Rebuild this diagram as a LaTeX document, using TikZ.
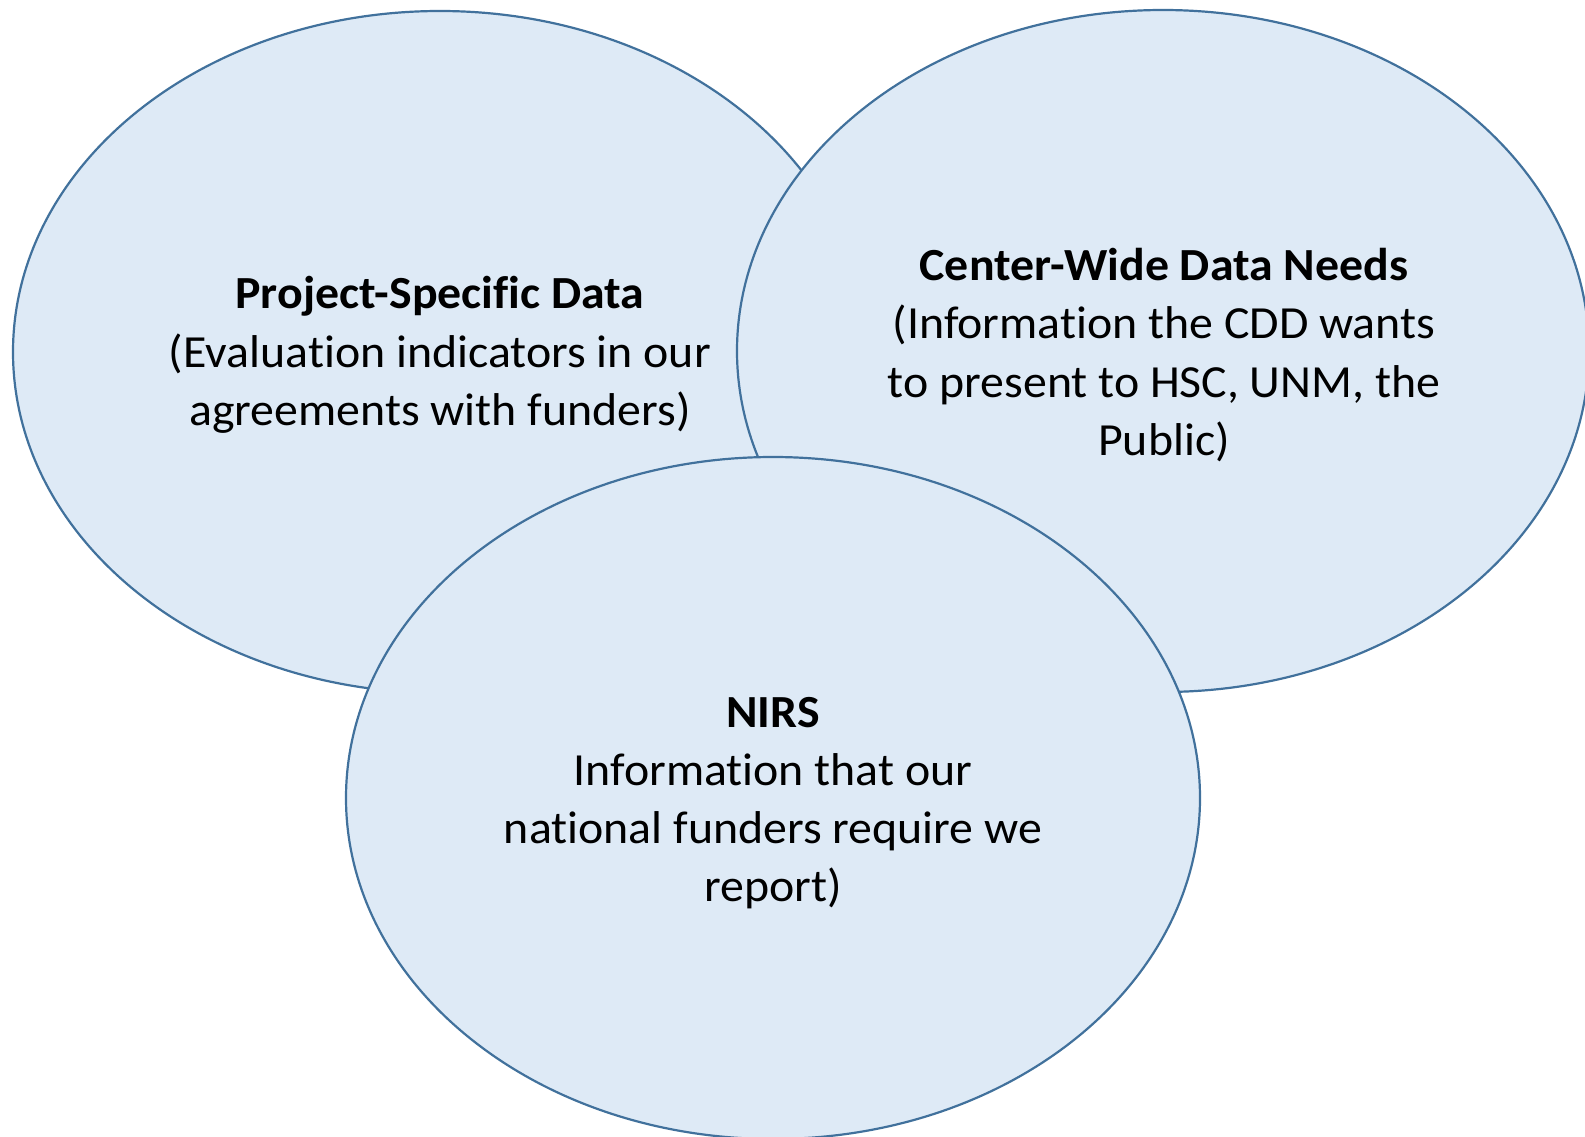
\documentclass[tikz,border=0pt]{standalone}
\usepackage{fontspec}
\setmainfont[Ligatures=NoCommon,FakeStretch=1.04]{Carlito}
\usetikzlibrary{shapes.geometric}
\definecolor{vfill}{RGB}{222,234,246}
\definecolor{vline}{RGB}{65,113,156}
\begin{document}
\begin{tikzpicture}[x=1pt,y=-1pt,
  venn/.style={ellipse, draw=vline, fill=vfill, line width=2.2pt, inner sep=0pt},
  vtext/.style={align=center, inner sep=0pt, font=\fontsize{46}{58.2}\selectfont}]
\useasboundingbox (0,0) rectangle (1585,1137);
\node[venn, minimum width=854, minimum height=682] (psd) at (440,352) {};
\node[venn, minimum width=852, minimum height=682] (cwd) at (1163,351) {};
\node[venn, minimum width=854, minimum height=682] (nirs) at (773,798) {};
\node[vtext] (psdt) at (440,355)
  {\textbf{Project-Specific Data}\\(Evaluation indicators in our\\agreements with funders)};
\node[vtext] (cwdt) at (1164,355)
  {\textbf{Center-Wide Data Needs}\\(Information the CDD wants\\to present to HSC, UNM, the\\Public)};
\node[vtext] (nirst) at (773,803)
  {\textbf{NIRS}\\Information that our\\national funders require we\\report)};
\end{tikzpicture}
\end{document}
